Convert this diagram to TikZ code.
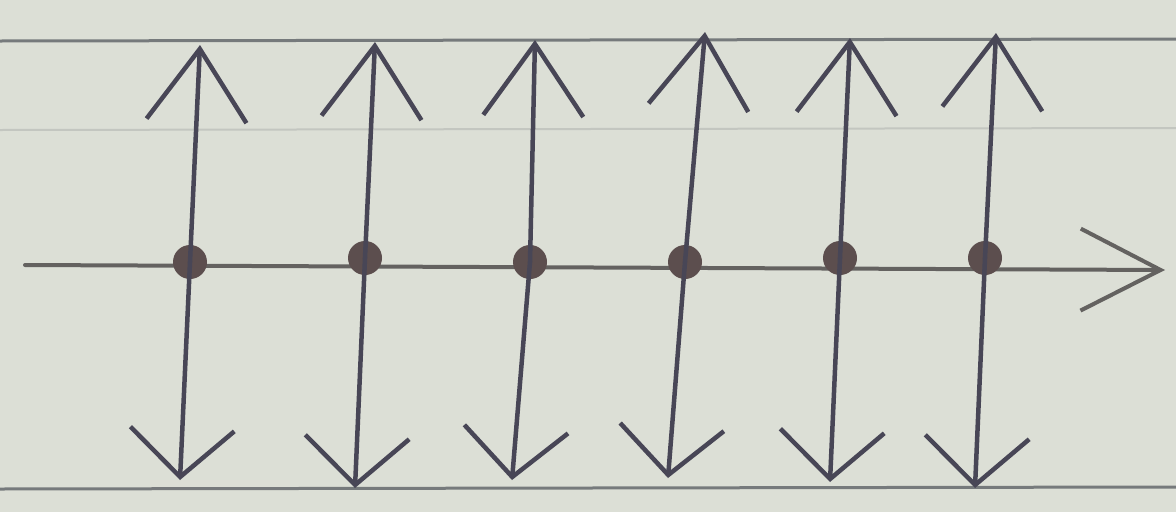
\documentclass[tikz,border=0pt]{standalone}
\usetikzlibrary{arrows.meta}
\definecolor{paper}{RGB}{220,223,214}
\definecolor{rule}{RGB}{118,122,124}
\definecolor{ink}{RGB}{72,70,86}
\definecolor{dotc}{RGB}{92,78,78}
\definecolor{axisc}{RGB}{100,98,96}
\tikzset{
  vecup/.style={draw=ink,line width=4.5pt,line cap=round,-{Straight Barb[length=72pt,width=100pt,line width=4.5pt]}},
  vecdown/.style={draw=ink,line width=4.5pt,line cap=round,-{Straight Barb[length=48pt,width=104pt,line width=4.5pt]}},
  axisline/.style={draw=axisc,line width=4pt,line cap=round,-{Straight Barb[length=80pt,width=82pt,line width=4pt]}},
  pt/.style={circle,fill=dotc,minimum size=34pt,inner sep=0pt},
  ruled/.style={draw=rule,line width=3pt}
}
\begin{document}
\begin{tikzpicture}[x=1pt,y=-1pt]
\fill[paper] (0,0) rectangle (1176,512);
\useasboundingbox (0,0) rectangle (1176,512);
\draw[rule!25!paper,line width=2pt] (0,130) -- (1176,128);
\draw[ruled] (0,41) -- (1176,39);
\draw[ruled] (0,489) -- (1176,487);
\coordinate (L) at (25,265);
\coordinate (R) at (1165,270);
\draw[axisline] (L) -- (R);
\foreach \i/\tx/\ty/\dx/\dy/\bx/\by in {
 1/200/45/190/262/180/480,
 2/375/42/365/258/355/488,
 3/535/40/530/262/512/480,
 4/705/32/685/262/668/478,
 5/850/38/840/258/830/482,
 6/996/33/985/258/975/488}{
  \node[pt] (d\i) at (\dx,\dy) {};
  \coordinate (t\i) at (\tx,\ty);
  \coordinate (b\i) at (\bx,\by);
  \draw[vecup] (d\i.center) -- (t\i);
  \draw[vecdown] (d\i.center) -- (b\i);
}
\end{tikzpicture}
\end{document}
